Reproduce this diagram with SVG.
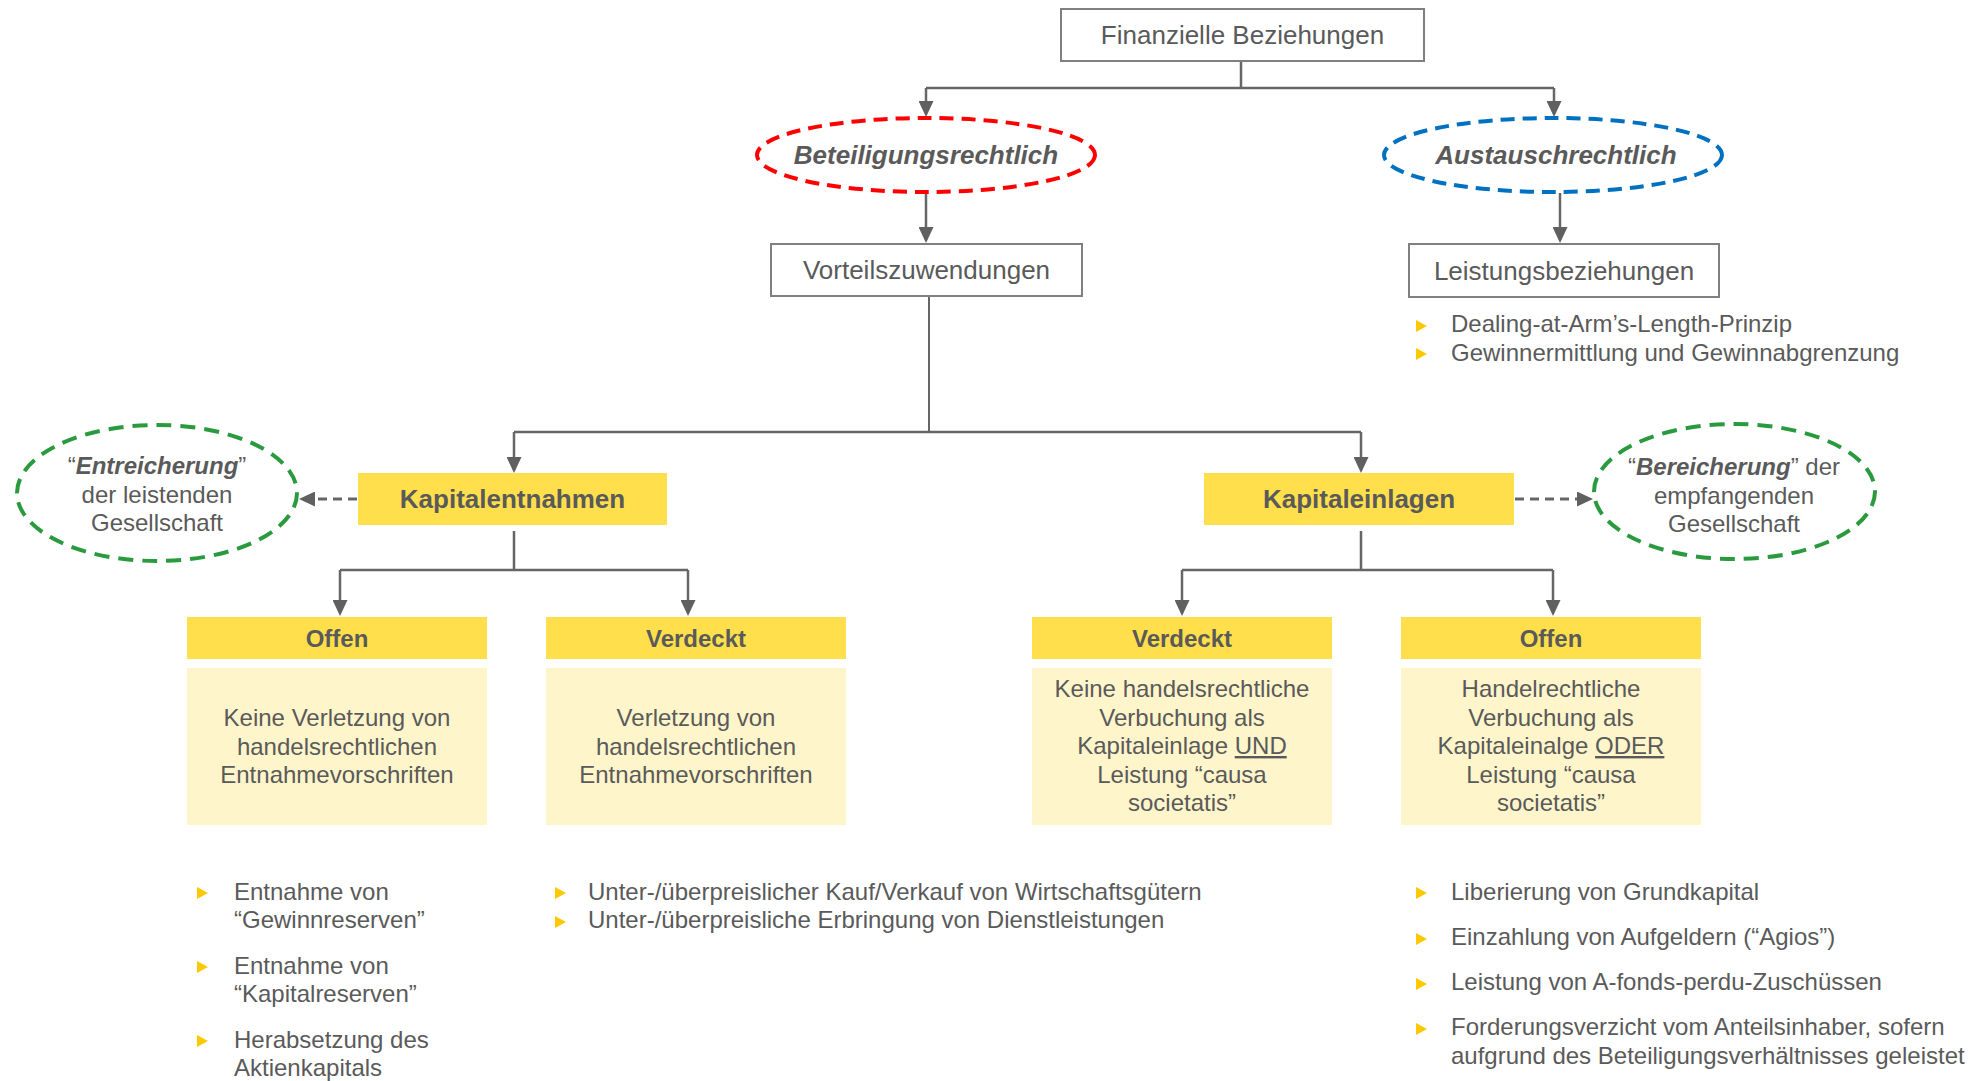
<svg xmlns="http://www.w3.org/2000/svg" width="1986" height="1081" viewBox="0 0 1986 1081">
<defs>
<style>
.t{font-family:"Liberation Sans",Arial,sans-serif;fill:#5a5a5a;}
.c{text-anchor:middle;}
.f26{font-size:26px;}
.f24{font-size:24px;}
.b{font-weight:bold;}
.bi{font-weight:bold;font-style:italic;}
.box{fill:#ffffff;stroke:#808080;stroke-width:2;}
.hdr{fill:#FFE04C;}
.body{fill:#FFF5CB;}
.ln{fill:none;stroke:#666666;stroke-width:2.5;}
.dash{fill:none;stroke:#666666;stroke-width:3;stroke-dasharray:9 6;}
.bul{fill:#FFC800;}
</style>
<marker id="ah" viewBox="0 0 16 15" refX="13" refY="7.5" markerWidth="16" markerHeight="15" markerUnits="userSpaceOnUse" orient="auto">
<path d="M0,0 L16,7.5 L0,15 z" fill="#606060"/>
</marker>
<path id="tri" d="M0,-6 L11,0 L0,6 z"/>
</defs>
<rect width="1986" height="1081" fill="#ffffff"/>

<g id="connectors">
<path class="ln" d="M1241,61 V88"/>
<path class="ln" d="M926,88 H1554"/>
<path class="ln" d="M926,88 V114" marker-end="url(#ah)"/>
<path class="ln" d="M1554,88 V114" marker-end="url(#ah)"/>
<path class="ln" d="M926,193 V240" marker-end="url(#ah)"/>
<path class="ln" d="M1560,193 V240" marker-end="url(#ah)"/>
<path class="ln" style="stroke-width:2" d="M929,296 V432"/>
<path class="ln" d="M514,432 H1361"/>
<path class="ln" d="M514,432 V470" marker-end="url(#ah)"/>
<path class="ln" d="M1361,432 V470" marker-end="url(#ah)"/>
<path class="ln" d="M514,531 V570 M340,570 H688"/>
<path class="ln" d="M340,570 V613" marker-end="url(#ah)"/>
<path class="ln" d="M688,570 V613" marker-end="url(#ah)"/>
<path class="ln" d="M1361,531 V570 M1182,570 H1553"/>
<path class="ln" d="M1182,570 V613" marker-end="url(#ah)"/>
<path class="ln" d="M1553,570 V613" marker-end="url(#ah)"/>
<path class="dash" d="M357,499 H302" marker-end="url(#ah)"/>
<path class="dash" d="M1515,499 H1590" marker-end="url(#ah)"/>
</g>

<g id="finanzielle">
<rect class="box" x="1061" y="9" width="363" height="52"/>
<text class="t c f26" x="1242.5" y="44">Finanzielle Beziehungen</text>
</g>

<g id="beteiligungsrechtlich">
<ellipse cx="926" cy="155" rx="169" ry="37" fill="none" stroke="#FF0000" stroke-width="4" stroke-dasharray="14 8"/>
<text class="t c f26 bi" x="926" y="164">Beteiligungsrechtlich</text>
</g>

<g id="austauschrechtlich">
<ellipse cx="1553" cy="155" rx="169" ry="37" fill="none" stroke="#0070C0" stroke-width="4" stroke-dasharray="14 8"/>
<text class="t c f26 bi" x="1556" y="164">Austauschrechtlich</text>
</g>

<g id="vorteilszuwendungen">
<rect class="box" x="771" y="244" width="311" height="52"/>
<text class="t c f26" x="926.5" y="279">Vorteilszuwendungen</text>
</g>

<g id="leistungsbeziehungen">
<rect class="box" x="1409" y="244" width="310" height="53"/>
<text class="t c f26" x="1564" y="280">Leistungsbeziehungen</text>
</g>

<g id="leistung-bullets">
<use href="#tri" class="bul" x="1416" y="326"/>
<text class="t f24" x="1451" y="332">Dealing-at-Arm’s-Length-Prinzip</text>
<use href="#tri" class="bul" x="1416" y="354"/>
<text class="t f24" x="1451" y="361">Gewinnermittlung und Gewinnabgrenzung</text>
</g>

<g id="entreicherung">
<ellipse cx="157" cy="493" rx="140" ry="68" fill="none" stroke="#2A9A3E" stroke-width="4" stroke-dasharray="15 9"/>
<text class="t c f24" x="157" y="474">“<tspan class="bi">Entreicherung</tspan>”</text>
<text class="t c f24" x="157" y="502.5">der leistenden</text>
<text class="t c f24" x="157" y="531">Gesellschaft</text>
</g>

<g id="kapitalentnahmen">
<rect class="hdr" x="358" y="473" width="309" height="52"/>
<text class="t c f26 b" x="512.5" y="508">Kapitalentnahmen</text>
</g>

<g id="kapitaleinlagen">
<rect class="hdr" x="1204" y="473" width="310" height="52"/>
<text class="t c f26 b" x="1359" y="508">Kapitaleinlagen</text>
</g>

<g id="bereicherung">
<ellipse cx="1734.5" cy="491.5" rx="140.5" ry="67.5" fill="none" stroke="#2A9A3E" stroke-width="4" stroke-dasharray="15 9"/>
<text class="t c f24" x="1734" y="475">“<tspan class="bi">Bereicherung</tspan>” der</text>
<text class="t c f24" x="1734" y="503.5">empfangenden</text>
<text class="t c f24" x="1734" y="532">Gesellschaft</text>
</g>

<g id="offen-entnahme">
<rect class="hdr" x="187" y="617" width="300" height="42"/>
<text class="t c f24 b" x="337" y="647">Offen</text>
<rect class="body" x="187" y="668" width="300" height="157"/>
<text class="t c f24" x="337" y="726">Keine Verletzung von</text>
<text class="t c f24" x="337" y="754.5">handelsrechtlichen</text>
<text class="t c f24" x="337" y="783">Entnahmevorschriften</text>
</g>

<g id="verdeckt-entnahme">
<rect class="hdr" x="546" y="617" width="300" height="42"/>
<text class="t c f24 b" x="696" y="647">Verdeckt</text>
<rect class="body" x="546" y="668" width="300" height="157"/>
<text class="t c f24" x="696" y="726">Verletzung von</text>
<text class="t c f24" x="696" y="754.5">handelsrechtlichen</text>
<text class="t c f24" x="696" y="783">Entnahmevorschriften</text>
</g>

<g id="verdeckt-einlage">
<rect class="hdr" x="1032" y="617" width="300" height="42"/>
<text class="t c f24 b" x="1182" y="647">Verdeckt</text>
<rect class="body" x="1032" y="668" width="300" height="157"/>
<text class="t c f24" x="1182" y="697">Keine handelsrechtliche</text>
<text class="t c f24" x="1182" y="725.5">Verbuchung als</text>
<text class="t c f24" x="1182" y="754">Kapitaleinlage <tspan text-decoration="underline">UND</tspan></text>
<text class="t c f24" x="1182" y="782.5">Leistung “causa</text>
<text class="t c f24" x="1182" y="811">societatis”</text>
</g>

<g id="offen-einlage">
<rect class="hdr" x="1401" y="617" width="300" height="42"/>
<text class="t c f24 b" x="1551" y="647">Offen</text>
<rect class="body" x="1401" y="668" width="300" height="157"/>
<text class="t c f24" x="1551" y="697">Handelrechtliche</text>
<text class="t c f24" x="1551" y="725.5">Verbuchung als</text>
<text class="t c f24" x="1551" y="754">Kapitaleinalge <tspan text-decoration="underline">ODER</tspan></text>
<text class="t c f24" x="1551" y="782.5">Leistung “causa</text>
<text class="t c f24" x="1551" y="811">societatis”</text>
</g>

<g id="list-offen-entnahme">
<use href="#tri" class="bul" x="197" y="893"/>
<text class="t f24" x="234" y="900">Entnahme von</text>
<text class="t f24" x="234" y="928">“Gewinnreserven”</text>
<use href="#tri" class="bul" x="197" y="967"/>
<text class="t f24" x="234" y="974">Entnahme von</text>
<text class="t f24" x="234" y="1002">“Kapitalreserven”</text>
<use href="#tri" class="bul" x="197" y="1041"/>
<text class="t f24" x="234" y="1048">Herabsetzung des</text>
<text class="t f24" x="234" y="1076">Aktienkapitals</text>
</g>

<g id="list-verdeckt-entnahme">
<use href="#tri" class="bul" x="555" y="893"/>
<text class="t f24" x="588" y="900">Unter-/überpreislicher Kauf/Verkauf von Wirtschaftsgütern</text>
<use href="#tri" class="bul" x="555" y="922"/>
<text class="t f24" x="588" y="928">Unter-/überpreisliche Erbringung von Dienstleistungen</text>
</g>

<g id="list-einlage">
<use href="#tri" class="bul" x="1416" y="893"/>
<text class="t f24" x="1451" y="900">Liberierung von Grundkapital</text>
<use href="#tri" class="bul" x="1416" y="939"/>
<text class="t f24" x="1451" y="945">Einzahlung von Aufgeldern (“Agios”)</text>
<use href="#tri" class="bul" x="1416" y="984"/>
<text class="t f24" x="1451" y="990">Leistung von A-fonds-perdu-Zuschüssen</text>
<use href="#tri" class="bul" x="1416" y="1029"/>
<text class="t f24" x="1451" y="1035">Forderungsverzicht vom Anteilsinhaber, sofern</text>
<text class="t f24" x="1451" y="1064">aufgrund des Beteiligungsverhältnisses geleistet</text>
</g>
</svg>
